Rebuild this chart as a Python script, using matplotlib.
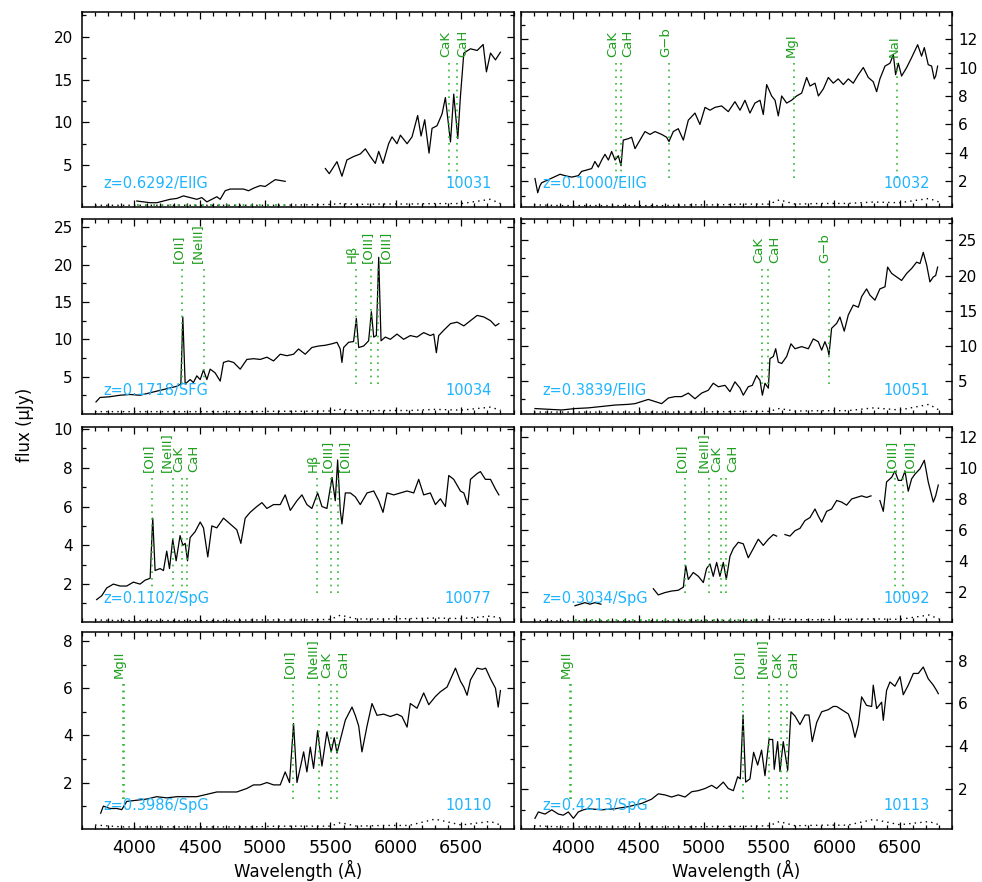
import numpy as np
import matplotlib
matplotlib.use("Agg")
import matplotlib.pyplot as plt
from matplotlib.ticker import MultipleLocator

nan = np.nan

# ---------------- data (observed wavelength in Angstrom, flux in microJy) ----------------
p1_wave = [4019, 4070, 4121, 4172, 4223, 4274, 4325, 4376, 4427, 4478, 4516, 4555, 4593, 4631, 4657,
           4695, 4733, 4784, 4835, 4874, 4912, 4963, 5001, 5039, 5078, 5116, 5154, nan,
           5461, 5491, 5550, 5588, 5626, 5677, 5728, 5767, 5805, 5843, 5869, 5902, 5945, 5971, 6009,
           6035, 6086, 6124, 6167, 6193, 6221, 6254, 6277, 6315, 6354, 6379, 6418, 6443, 6474, 6494,
           6520, 6571, 6622, 6668, 6693, 6724, 6762, 6800]
p1_flux = [0.8, 0.7, 0.6, 0.6, 0.8, 1.0, 1.1, 1.4, 1.2, 1.0, 1.2, 0.7, 1.0, 1.3, 1.0,
           2.0, 2.2, 2.2, 2.2, 2.0, 2.3, 2.6, 2.5, 2.9, 3.3, 3.2, 3.1, nan,
           4.6, 4.0, 5.4, 3.7, 5.6, 6.0, 6.3, 6.9, 6.0, 5.2, 6.6, 5.2, 7.5, 8.3, 7.5,
           8.5, 7.5, 8.3, 10.8, 8.4, 10.3, 6.4, 9.3, 9.6, 11.0, 12.9, 7.7, 13.3, 8.1, 13.0,
           18.1, 18.6, 18.4, 19.1, 15.9, 18.1, 17.3, 18.2]

p2_wave = [3707, 3728, 3745, 3758, 3899, 3937, 3988, 4039, 4064, 4103, 4141, 4166, 4192, 4218, 4243,
           4269, 4294, 4320, 4345, 4366, 4383, 4422, 4447, 4473, 4511, 4549, 4588, 4626, 4677, 4715,
           4733, 4766, 4804, 4843, 4881, 4932, 4970, 5009, 5047, 5085, 5136, 5187, 5238, 5277, 5315,
           5353, 5391, 5430, 5455, 5481, 5519, 5545, 5570, 5596, 5634, 5672, 5710, 5749, 5787, 5813,
           5851, 5877, 5915, 5953, 5991, 6029, 6068, 6106, 6144, 6183, 6221, 6259, 6297, 6323, 6348,
           6387, 6425, 6451, 6468, 6489, 6514, 6553, 6591, 6637, 6667, 6688, 6718, 6744, 6764, 6775, 6790]
p2_flux = [2.2, 1.2, 1.7, 1.9, 2.5, 2.4, 2.3, 2.4, 2.7, 2.8, 2.9, 3.4, 3.0, 3.5, 3.9,
           3.5, 4.1, 3.5, 3.8, 3.1, 4.9, 5.0, 5.1, 4.3, 4.9, 5.5, 5.3, 5.5, 5.3, 5.1,
           4.8, 5.5, 5.7, 4.9, 6.3, 6.8, 6.0, 7.2, 7.0, 7.2, 7.3, 6.9, 7.6, 7.0, 7.7,
           6.8, 7.5, 7.7, 6.7, 8.8, 8.0, 7.7, 6.6, 8.0, 7.5, 7.7, 8.0, 8.2, 9.3, 8.7,
           8.9, 8.0, 8.5, 9.3, 8.9, 9.2, 8.8, 9.2, 8.9, 9.5, 10.0, 9.3, 9.0, 8.3, 9.2,
           10.1, 10.3, 10.9, 9.5, 10.3, 9.4, 10.0, 10.7, 11.6, 10.8, 11.4, 10.2, 10.1, 9.2, 9.4, 10.1]

p3_wave = [3707, 3738, 3814, 3891, 3968, 4044, 4325, 4356, 4371, 4389, 4427, 4452, 4478, 4504, 4529,
           4555, 4580, 4618, 4657, 4682, 4720, 4759, 4810, 4861, 4912, 4963, 5014, 5065, 5116, 5167,
           5218, 5256, 5307, 5358, 5409, 5461, 5512, 5550, 5575, 5588, 5601, 5639, 5677, 5698, 5716,
           5754, 5792, 5813, 5831, 5851, 5869, 5887, 5920, 5958, 6009, 6060, 6111, 6162, 6213, 6264,
           6290, 6310, 6328, 6366, 6418, 6469, 6520, 6571, 6622, 6673, 6724, 6762, 6788]
p3_flux = [1.6, 2.2, 2.3, 2.5, 2.6, 2.5, 3.7, 4.0, 13.0, 4.0, 4.6, 4.2, 5.1, 4.6, 5.9,
           4.6, 6.0, 5.5, 4.4, 6.9, 7.1, 6.9, 6.0, 7.3, 7.4, 7.3, 7.6, 7.1, 8.0, 7.8,
           8.0, 8.7, 8.0, 8.9, 9.1, 9.2, 9.4, 9.6, 8.7, 6.9, 8.9, 9.6, 9.7, 12.8, 8.9,
           9.1, 9.8, 13.7, 10.3, 10.5, 21.0, 9.8, 10.3, 10.0, 10.7, 10.0, 10.5, 10.3, 10.9, 10.5,
           10.7, 8.2, 10.5, 11.2, 12.1, 12.3, 11.8, 12.5, 13.2, 13.0, 12.5, 11.8, 12.1]

p4_wave = [3707, 3809, 3911, 4013, 4115, 4218, 4320, 4422, 4473, 4524, 4575, 4626, 4677, 4728, 4779,
           4830, 4881, 4932, 4983, 5034, 5072, 5111, 5162, 5200, 5238, 5277, 5302, 5340, 5371, 5404,
           5430, 5448, 5468, 5494, 5506, 5532, 5550, 5570, 5596, 5634, 5667, 5698, 5749, 5800, 5838,
           5876, 5902, 5927, 5948, 5958, 5978, 6017, 6042, 6075, 6106, 6144, 6183, 6208, 6246, 6272,
           6310, 6348, 6387, 6407, 6438, 6476, 6514, 6553, 6591, 6629, 6655, 6680, 6706, 6731, 6757,
           6775, 6790]
p4_flux = [1.1, 1.0, 0.9, 1.1, 1.2, 1.4, 1.6, 1.7, 1.8, 2.1, 2.4, 2.1, 1.8, 2.6, 2.8,
           2.8, 3.3, 2.5, 3.3, 3.7, 4.7, 4.2, 4.4, 3.5, 4.9, 4.0, 3.0, 4.2, 4.4, 5.8,
           5.1, 3.0, 4.7, 4.0, 8.2, 8.5, 9.6, 7.7, 7.5, 8.5, 10.3, 9.6, 9.9, 9.6, 11.0,
           10.6, 9.4, 10.6, 9.6, 8.7, 12.5, 13.2, 14.1, 12.1, 14.4, 15.8, 15.5, 17.0, 18.1, 17.2,
           16.5, 18.1, 18.4, 21.2, 20.3, 19.8, 19.3, 20.3, 21.0, 21.9, 21.7, 23.3, 21.5, 19.1, 19.8,
           20.0, 21.2]

p5_wave = [3712, 3751, 3789, 3840, 3891, 3942, 3993, 4044, 4082, 4121, 4141, 4159, 4197, 4223, 4248,
           4269, 4294, 4320, 4350, 4371, 4389, 4407, 4427, 4465, 4504, 4529, 4562, 4593, 4631, 4682,
           4733, 4784, 4815, 4848, 4886, 4937, 4976, 5014, 5065, 5116, 5154, 5193, 5244, 5282, 5320,
           5358, 5402, 5435, 5473, 5512, 5537, 5555, 5575, 5588, 5614, 5652, 5690, 5728, 5780, 5831,
           5869, 5902, 5933, 5984, 6035, 6086, 6137, 6175, 6213, 6264, 6303, 6341, 6379, 6405, 6443,
           6494, 6520, 6550, 6571, 6622, 6647, 6685, 6724, 6762, 6788]
p5_flux = [1.2, 1.4, 1.8, 2.0, 1.9, 1.9, 2.1, 2.0, 2.2, 2.3, 5.4, 2.7, 2.8, 2.7, 3.7,
           2.8, 4.3, 3.2, 4.5, 4.0, 4.1, 3.2, 4.4, 4.7, 5.2, 4.9, 3.4, 5.0, 4.9, 5.4,
           5.1, 4.8, 4.1, 5.4, 5.7, 6.0, 6.2, 5.9, 6.1, 6.1, 6.6, 5.8, 6.3, 6.6, 6.1,
           5.9, 6.7, 6.0, 5.9, 7.5, 6.3, 8.4, 5.8, 5.1, 6.7, 6.7, 6.5, 6.1, 6.7, 6.8,
           6.3, 5.7, 6.7, 6.6, 6.7, 6.8, 6.7, 7.4, 6.6, 6.7, 6.1, 6.4, 6.0, 7.6, 7.4,
           6.8, 6.7, 6.1, 7.4, 7.7, 7.8, 7.4, 7.4, 6.9, 6.6]

p6_wave = [4013, 4052, 4090, 4128, 4166, 4212, nan,
           4613, 4651, 4702, 4753, 4804, 4843, 4861, 4881, 4919, 4958, 4996, 5021, 5047, 5072,
           5098, 5123, 5149, 5172, 5200, 5226, 5264, 5302, 5340, 5379, 5417, 5455, 5494, 5532, 5557, nan,
           5621, 5659, 5698, 5736, 5774, 5813, 5851, 5876, 5902, 5940, 5978, 6017, 6055, 6093, 6132,
           6170, 6208, 6246, 6280, nan,
           6348, 6374, 6399, 6438, 6463, 6489, 6514, 6540, 6565, 6591, 6616, 6655, 6688, 6718, 6757,
           6775, 6795]
p6_flux = [1.1, 1.2, 1.3, 1.2, 1.3, 1.2, nan,
           2.2, 1.8, 1.95, 2.05, 2.1, 2.3, 3.7, 2.8, 3.25, 3.0, 2.6, 3.5, 3.8, 3.0,
           3.9, 3.0, 3.9, 2.8, 4.3, 4.8, 5.2, 5.1, 4.2, 4.8, 5.4, 5.0, 5.4, 5.7, 5.6, nan,
           5.7, 5.6, 5.95, 6.1, 6.6, 6.8, 7.35, 6.9, 6.5, 7.2, 7.35, 7.9, 7.8, 7.6, 8.0,
           8.1, 8.2, 8.1, 8.2, nan,
           7.9, 7.2, 9.1, 9.4, 9.8, 9.2, 9.2, 9.8, 8.5, 9.3, 9.6, 9.95, 10.5, 9.1, 7.8,
           8.2, 8.9]

p7_wave = [3743, 3763, 3814, 3866, 3904, 3942, 4019, 4095, 4172, 4248, 4325, 4401, 4478, 4555, 4631,
           4708, 4784, 4861, 4912, 4963, 5014, 5065, 5116, 5154, 5187, 5218, 5244, 5274, 5295, 5320,
           5346, 5371, 5402, 5435, 5473, 5506, 5529, 5550, 5575, 5614, 5665, 5690, 5716, 5741, 5780,
           5818, 5856, 5907, 5958, 6009, 6047, 6086, 6111, 6162, 6213, 6252, 6303, 6341, 6392, 6456,
           6494, 6520, 6545, 6571, 6622, 6660, 6687, 6724, 6762, 6783, 6800]
p7_flux = [0.7, 1.0, 0.9, 0.9, 0.85, 1.2, 1.25, 1.3, 1.4, 1.35, 1.4, 1.4, 1.4, 1.5, 1.6,
           1.6, 1.6, 1.75, 1.9, 1.9, 2.0, 1.9, 1.9, 2.45, 2.0, 4.5, 2.0, 2.75, 3.3, 2.45,
           3.5, 2.6, 4.2, 2.7, 4.15, 3.3, 3.9, 3.25, 3.8, 4.65, 5.2, 4.85, 4.4, 3.3, 4.4,
           5.35, 4.85, 4.9, 4.8, 4.9, 4.8, 4.35, 5.35, 5.15, 5.8, 5.3, 5.65, 5.85, 6.05, 6.85,
           6.3, 6.05, 5.7, 6.35, 6.85, 6.8, 6.85, 6.4, 6.0, 5.2, 5.9]

p8_wave = [3707, 3733, 3784, 3835, 3886, 3924, 3962, 4001, 4039, 4077, 4115, 4218, 4320, 4422, 4524,
           4600, 4651, 4702, 4753, 4804, 4856, 4907, 4958, 5009, 5060, 5098, 5149, 5187, 5226, 5259,
           5279, 5300, 5320, 5353, 5381, 5412, 5442, 5468, 5499, 5527, 5539, 5565, 5583, 5608, 5642,
           5667, 5698, 5736, 5774, 5805, 5830, 5864, 5902, 5953, 5991, 6017, 6055, 6106, 6132, 6157,
           6183, 6208, 6246, 6285, 6297, 6323, 6361, 6374, 6399, 6425, 6463, 6502, 6527, 6565, 6604,
           6642, 6680, 6718, 6757, 6782, 6795]
p8_flux = [0.6, 0.9, 0.8, 1.0, 0.8, 0.75, 0.9, 0.6, 0.9, 1.0, 1.05, 1.0, 1.05, 1.15, 1.3,
           1.5, 1.75, 1.7, 1.6, 1.7, 1.6, 1.85, 1.9, 2.0, 2.15, 2.0, 2.3, 2.0, 1.9, 2.55,
           2.45, 5.45, 2.3, 2.45, 3.7, 3.1, 3.8, 2.6, 4.3, 4.3, 2.9, 4.2, 2.8, 4.2, 2.85,
           5.6, 5.4, 5.0, 5.45, 5.45, 4.2, 5.1, 5.6, 5.7, 5.85, 5.85, 5.7, 5.5, 5.1, 4.4,
           5.0, 6.3, 5.9, 5.85, 6.85, 5.75, 6.05, 5.2, 6.6, 7.0, 6.8, 7.25, 6.4, 6.85, 7.4,
           7.4, 7.7, 7.15, 6.85, 6.6, 6.45]

# error spectra (small, plotted as dotted line near the bottom)
err_wave = [3700, 3900, 4100, 4300, 4500, 4700, 4900, 5100, 5300, 5500, 5577, 5700, 5900, 6100, 6300,
            6500, 6724, 6800]
p1_err = [0.3, 0.3, 0.3, 0.3, 0.3, 0.3, 0.3, 0.3, 0.35, 0.4, 0.5, 0.4, 0.45, 0.45, 0.5, 0.5, 1.0, 0.5]
p2_err = [0.35, 0.3, 0.3, 0.3, 0.3, 0.3, 0.35, 0.35, 0.4, 0.4, 0.7, 0.4, 0.45, 0.45, 0.55, 0.5, 0.8, 0.55]
p3_err = [0.3, 0.3, 0.3, 0.3, 0.3, 0.3, 0.3, 0.35, 0.35, 0.4, 0.6, 0.4, 0.45, 0.45, 0.6, 0.5, 0.9, 0.5]
p4_err = [0.6, 0.6, 0.6, 0.6, 0.6, 0.6, 0.6, 0.65, 0.7, 0.7, 1.1, 0.75, 0.8, 0.8, 1.2, 0.9, 1.7, 0.9]
p5_err = [0.15, 0.12, 0.12, 0.12, 0.12, 0.12, 0.15, 0.15, 0.15, 0.18, 0.4, 0.2, 0.2, 0.22, 0.25, 0.22, 0.35, 0.25]
p6_err = [0.15, 0.12, 0.12, 0.12, 0.12, 0.12, 0.15, 0.15, 0.15, 0.18, 0.25, 0.2, 0.2, 0.22, 0.25, 0.22, 0.5, 0.25]
p7_err = [0.2, 0.12, 0.12, 0.12, 0.12, 0.12, 0.12, 0.15, 0.15, 0.15, 0.3, 0.15, 0.18, 0.18, 0.45, 0.2, 0.35, 0.2]
p8_err = [0.25, 0.2, 0.2, 0.2, 0.2, 0.2, 0.2, 0.22, 0.22, 0.25, 0.45, 0.25, 0.28, 0.28, 0.55, 0.3, 0.45, 0.3]

redshifts = [0.6292, 0.1000, 0.1718, 0.3839, 0.1102, 0.3034, 0.3986, 0.4213]
classes = ["EllG", "EllG", "SFG", "EllG", "SpG", "SpG", "SpG", "SpG"]
ids = ["10031", "10032", "10034", "10051", "10077", "10092", "10110", "10113"]
ylims = [(0.1, 22.9), (0.2, 13.9), (0.05, 26.2), (0.4, 28.1), (0.03, 10.1), (0.03, 12.65), (0.03, 8.37), (0.1, 9.33)]
ymajor = [5, 2, 5, 5, 2, 2, 2, 2]

# rest-frame wavelengths of marked features
rest = {"MgII": [2796, 2803], "[OII]": [3727], "[NeIII]": [3869], "CaK": [3934], "CaH": [3968],
        "G\u2212b": [4304], "H\u03b2": [4861], "[OIII]": [4959], "[OIII] ": [5007],
        "MgI": [5175], "NaI": [5893]}
# (label, side of the line on which the text sits: L, L2 = further left, R)
p1_lines = [("CaK", "L"), ("CaH", "R")]
p2_lines = [("CaK", "L"), ("CaH", "R"), ("G\u2212b", "L"), ("MgI", "L"), ("NaI", "L")]
p3_lines = [("[OII]", "L"), ("[NeIII]", "L2"), ("H\u03b2", "L"), ("[OIII]", "L"), ("[OIII] ", "R")]
p4_lines = [("CaK", "L"), ("CaH", "R"), ("G\u2212b", "L")]
p5_lines = [("[OII]", "L"), ("[NeIII]", "L2"), ("CaK", "L"), ("CaH", "R"), ("H\u03b2", "L"),
            ("[OIII]", "L"), ("[OIII] ", "R")]
p6_lines = [("[OII]", "L"), ("[NeIII]", "L2"), ("CaK", "L"), ("CaH", "R"), ("[OIII]", "L"), ("[OIII] ", "R")]
p7_lines = [("MgII", "L"), ("[OII]", "L"), ("[NeIII]", "L2"), ("CaK", "L"), ("CaH", "R")]
p8_lines = [("MgII", "L"), ("[OII]", "L"), ("[NeIII]", "L2"), ("CaK", "L"), ("CaH", "R")]

# masked ranges drawn as green dots at the bottom
p1_mask = [4019, 5154]
p6_mask = [4013, 5443]

waves = [p1_wave, p2_wave, p3_wave, p4_wave, p5_wave, p6_wave, p7_wave, p8_wave]
fluxes = [p1_flux, p2_flux, p3_flux, p4_flux, p5_flux, p6_flux, p7_flux, p8_flux]
errs = [p1_err, p2_err, p3_err, p4_err, p5_err, p6_err, p7_err, p8_err]
lines = [p1_lines, p2_lines, p3_lines, p4_lines, p5_lines, p6_lines, p7_lines, p8_lines]
masks = {0: p1_mask, 5: p6_mask}

# ---------------- layout ----------------
W, H = 982, 882
fig = plt.figure(figsize=(W / 100, H / 100), dpi=100)
rows_top = [12, 218.5, 427, 632.3]
rows_bot = [207, 413.5, 622.3, 829]
cols = [(82, 513.5), (521, 952)]

BLUE = "#1EB4FF"
GREEN_T = "#1E9E1E"
GREEN_L = "#2DB82D"
VA = {"L": "baseline", "L2": "bottom", "R": "top"}

for i in range(8):
    r, c = divmod(i, 2)
    x0, x1 = cols[c]
    t, b = rows_top[r], rows_bot[r]
    ax = fig.add_axes([x0 / W, 1 - b / H, (x1 - x0) / W, (b - t) / H])
    z = redshifts[i]

    ax.plot(waves[i], fluxes[i], color="black", lw=0.9)
    ax.plot(err_wave, errs[i], color="black", lw=1.0, ls=(0, (1, 3)))
    if i in masks:
        m = masks[i]
        ax.plot(m, [ylims[i][0] + 0.01 * (ylims[i][1] - ylims[i][0])] * 2,
                color=GREEN_L, lw=1.3, ls=(0, (1, 3.5)))

    tr = ax.get_xaxis_transform()
    for name, side in lines[i]:
        for lr in rest[name]:
            lam = lr * (1 + z)
            ax.plot([lam, lam], [0.15, 0.755], transform=tr, color=GREEN_L, lw=1.2,
                    ls=(0, (1, 3)))
        lam = rest[name][0] * (1 + z)
        ax.text(lam, 0.77, name.strip(), transform=tr, rotation=90, rotation_mode="anchor",
                ha="left", va=VA[side], color=GREEN_T, fontsize=9.5)

    ax.text(0.049, 0.097, "z=%.4f/%s" % (z, classes[i]), transform=ax.transAxes,
            color=BLUE, fontsize=10.5, ha="left", va="baseline")
    ax.text(0.949, 0.097, ids[i], transform=ax.transAxes,
            color=BLUE, fontsize=10.5, ha="right", va="baseline")

    ax.set_xlim(3600, 6900)
    ax.set_ylim(*ylims[i])
    ax.xaxis.set_major_locator(MultipleLocator(500))
    ax.xaxis.set_minor_locator(MultipleLocator(100))
    ax.yaxis.set_major_locator(MultipleLocator(ymajor[i]))
    ax.yaxis.set_minor_locator(MultipleLocator(ymajor[i] / 2))
    ax.tick_params(which="both", direction="in", top=True, right=True, width=0.9)
    ax.tick_params(which="major", length=5)
    ax.tick_params(which="minor", length=2.8)
    ax.tick_params(axis="x", labelsize=12.5, pad=7.5)
    ax.tick_params(axis="y", labelsize=11)
    if c == 1:
        ax.tick_params(axis="y", labelleft=False, labelright=True, pad=4.3)
    else:
        ax.tick_params(axis="y", pad=6.5)
    if r < 3:
        ax.tick_params(axis="x", labelbottom=False)
    for s in ax.spines.values():
        s.set_linewidth(1.1)

fig.text(25 / W, 1 - 425 / H, "flux (\u03bcJy)", rotation=90, ha="center", va="center", fontsize=12)
for x0, x1 in cols:
    fig.text((x0 + x1) / 2 / W, 1 - 870 / H, "Wavelength (\u00c5)", ha="center", va="center", fontsize=12)

fig.savefig("out.png", dpi=100)
